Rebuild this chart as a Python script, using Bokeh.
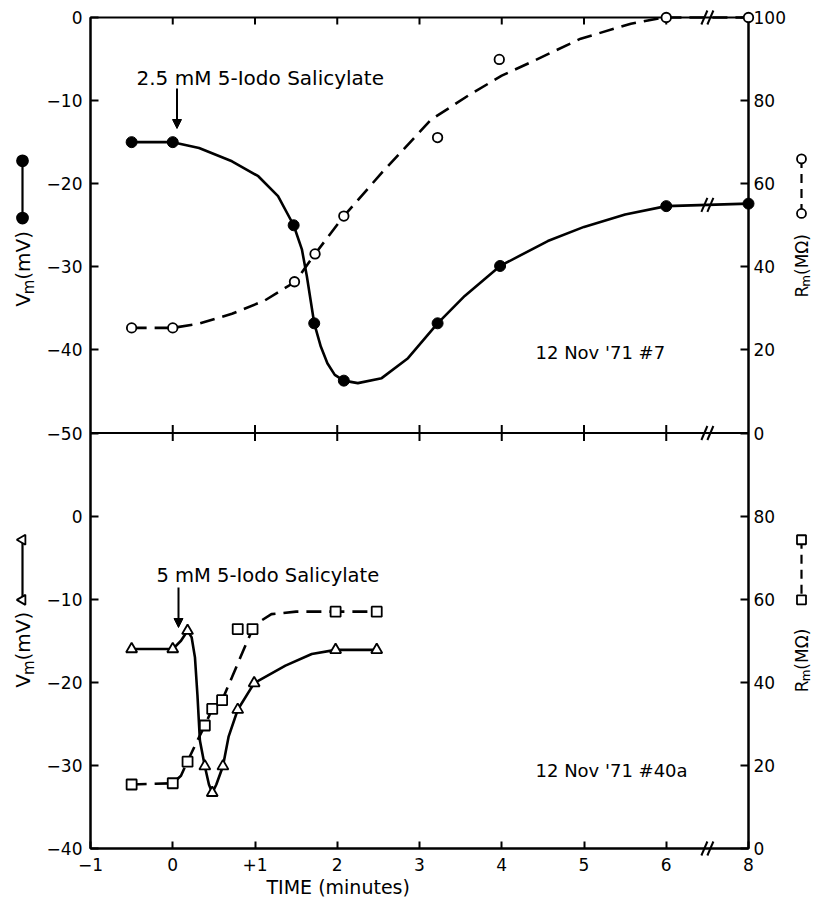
import math
from bokeh.plotting import figure
from bokeh.layouts import row
from bokeh.models import Range1d, LinearAxis, FixedTicker, Label, Arrow, NormalHead, Title
from bokeh.core.properties import value
from bokeh.embed import file_html
from bokeh.resources import INLINE

# ---------------- data (time in minutes) ----------------
# upper panel: 12 Nov '71 #7, 2.5 mM 5-Iodo Salicylate
top_vm_t = [-0.5, 0, 1.47, 1.72, 2.08, 3.22, 3.98, 6, 8]
top_vm = [-15, -15, -25, -36.8, -43.7, -36.8, -29.9, -22.7, -22.4]
top_rm_t = [-0.5, 0, 1.48, 1.73, 2.08, 3.22, 3.97, 6, 8]
top_rm = [25.3, 25.3, 36.4, 43.1, 52.2, 71.1, 89.9, 100, 100]
# hand-drawn curves
top_vm_curve_t = [-0.5, 0, 0.32, 0.72, 1.04, 1.28, 1.47, 1.57, 1.63, 1.72, 1.8, 1.88, 1.97,
                  2.08, 2.25, 2.54, 2.86, 3.22, 3.55, 3.98, 4.56, 5.0, 5.5, 6.0, 8.0]
top_vm_curve = [-15, -15, -15.7, -17.3, -19.1, -21.5, -25, -27.9, -31.1, -36.8, -39.6, -41.6, -43.0,
                -43.7, -44.0, -43.4, -41.0, -36.8, -33.5, -29.9, -26.9, -25.2, -23.7, -22.7, -22.4]
top_rm_curve_t = [-0.5, 0, 0.32, 0.72, 1.12, 1.49, 1.73, 2.08, 2.54, 3.14, 3.6, 4.0,
                  4.36, 4.96, 5.57, 5.89, 6.0, 8.0]
top_rm_curve = [25.3, 25.3, 26.3, 28.7, 31.9, 36.4, 43.1, 52.2, 62.6, 75.4, 81.3, 86.0,
                89.3, 94.9, 98.5, 99.7, 100, 100]

# lower panel: 12 Nov '71 #40a, 5 mM 5-Iodo Salicylate
bot_vm_t = [-0.5, 0, 0.18, 0.39, 0.48, 0.61, 0.79, 0.99, 1.98, 2.48]
bot_vm = [-16, -16, -13.8, -30.1, -33.3, -30.1, -23.3, -20.1, -16.1, -16.1]
bot_rm_t = [-0.5, 0, 0.18, 0.39, 0.48, 0.6, 0.79, 0.97, 1.98, 2.48]
bot_rm = [15.4, 15.7, 20.9, 29.6, 33.6, 35.7, 52.8, 52.8, 57.0, 57.0]
bot_vm_curve_t = [-0.5, 0, 0.1, 0.18, 0.23, 0.27, 0.3, 0.33, 0.39, 0.44, 0.48, 0.53,
                  0.61, 0.68, 0.79, 0.99, 1.37, 1.69, 1.98, 2.48]
bot_vm_curve = [-16, -16, -15.0, -13.8, -14.6, -17.0, -21.5, -27.0, -30.1, -32.3, -33.3, -32.3,
                -30.1, -26.5, -23.3, -20.1, -18.0, -16.6, -16.1, -16.1]
bot_rm_curve_t = [-0.5, 0, 0.1, 0.18, 0.3, 0.39, 0.48, 0.6, 0.72, 0.85, 0.97, 1.04,
                  1.2, 1.5, 1.98, 2.48]
bot_rm_curve = [15.4, 15.7, 17.5, 21.0, 26.0, 29.6, 33.6, 35.7, 41.2, 47.3, 52.8, 54.4,
                56.4, 57.0, 57.0, 57.0]

x_ticks = [-1, 0, 1, 2, 3, 4, 5, 6, 8]
x_tick_labels = ["−1", "0", "+1", "2", "3", "4", "5", "6", "8"]
vm_top_ticks = [0, -10, -20, -30, -40, -50]
vm_bot_ticks = [0, -10, -20, -30, -40]
rm_ticks = [0, 20, 40, 60, 80, 100]

# ---------------- layout (canvas pixels) ----------------
FONT = "DejaVu Sans"
H = 899
LW_FIG = 38                    # left key strip: x 0..38
RW_FIG = 25                    # right key strip
MB_L, MB_R, MB_T, MB_B = 52, 40, 17, 51
FW = 658
W_MAIN = MB_L + FW + MB_R
FL = LW_FIG + MB_L             # frame left (90)
FT = MB_T                      # frame top (17)
FH = H - MB_T - MB_B           # 831
X0, X1 = -1, 7
Y0, Y1 = -100, 0
BREAK = 6.5
UX = (X1 - X0) / FW
UY = (Y1 - Y0) / FH


def tx(t):  # time axis with a break between 6 and 8 min
    return t if t <= 6 else 6 + (t - 6) / 2


def top_y(v):
    return v


def bot_y(v):
    return v - 60


def px(xp):
    return X0 + (xp - FL) * UX


def py(yp):
    return Y1 - (yp - FT) * UY


def minus(s):
    return s.replace("-", "−")


p = figure(width=W_MAIN, height=H, x_range=Range1d(X0, X1), y_range=Range1d(Y0, Y1),
           output_backend="svg", toolbar_location=None, x_axis_type=None, y_axis_type=None,
           min_border_left=MB_L, min_border_right=MB_R, min_border_top=MB_T,
           min_border_bottom=MB_B)
p.extra_y_ranges = {"r": Range1d(0, 200)}
p.outline_line_color = "black"
p.outline_line_width = 2
p.background_fill_color = "white"
p.border_fill_color = "white"

xt_pos = [tx(t) for t in x_ticks]
common = dict(axis_line_width=2, axis_line_color="black", major_tick_line_width=2,
              major_tick_line_color="black", minor_tick_line_color=None,
              major_label_text_font=FONT, major_label_text_font_size="17px",
              major_label_text_color="black")

xb = LinearAxis(ticker=FixedTicker(ticks=xt_pos),
                major_label_overrides={pos: lab for pos, lab in zip(xt_pos, x_tick_labels)},
                major_tick_in=7, major_tick_out=0, major_label_standoff=9, **common)
p.add_layout(xb, "below")
p.add_layout(Title(text="TIME (minutes)", align="left", offset=176, standoff=0,
                   text_font=FONT, text_font_size="19px", text_font_style="normal",
                   text_color="black"), "below")

yl_pos = [top_y(v) for v in vm_top_ticks] + [bot_y(v) for v in vm_bot_ticks]
yl_lab = [minus(str(v)) for v in vm_top_ticks] + [minus(str(v)) for v in vm_bot_ticks]
yl = LinearAxis(ticker=FixedTicker(ticks=yl_pos),
                major_label_overrides={a: b for a, b in zip(yl_pos, yl_lab)},
                major_tick_in=8, major_tick_out=0, major_label_standoff=8, **common)
p.add_layout(yl, "left")

yr_pos = [r + 100 for r in rm_ticks] + [r for r in rm_ticks[:-1]]
yr_lab = [str(r) for r in rm_ticks] + [str(r) for r in rm_ticks[:-1]]
yr = LinearAxis(y_range_name="r", ticker=FixedTicker(ticks=yr_pos),
                major_label_overrides={a: b for a, b in zip(yr_pos, yr_lab)},
                major_tick_in=8, major_tick_out=0, major_label_standoff=5, **common)
p.add_layout(yr, "right")

# top edge ticks, middle (shared) axis line with crossing ticks
inner = xt_pos[1:-1]
n = len(inner)
p.segment(x0=inner, y0=[0] * n, x1=inner, y1=[-7 * UY] * n, line_width=2, line_color="black")
p.segment(x0=[X0], y0=[-50], x1=[X1], y1=[-50], line_width=2, line_color="black")
p.segment(x0=inner, y0=[-50 - 8 * UY] * n, x1=inner, y1=[-50 + 8 * UY] * n,
          line_width=2, line_color="black")

LW = 2.6
DASH = "15 8"
# ---- upper panel
p.line([tx(t) for t in top_rm_curve_t], [r + 100 for r in top_rm_curve], y_range_name="r",
       line_width=LW, line_color="black", line_dash=DASH, level="overlay")
p.line([tx(t) for t in top_vm_curve_t], [top_y(v) for v in top_vm_curve],
       line_width=LW, line_color="black", level="overlay")
p.scatter([tx(t) for t in top_rm_t], [r + 100 for r in top_rm], y_range_name="r",
          marker="circle", size=9.5, fill_color="white", line_color="black", line_width=1.8,
          level="overlay")
p.scatter([tx(t) for t in top_vm_t], [top_y(v) for v in top_vm], marker="circle", size=11,
          fill_color="black", line_color="black", level="overlay")
# ---- lower panel
p.line(bot_rm_curve_t, bot_rm_curve, y_range_name="r", line_width=LW, line_color="black",
       line_dash=DASH, level="overlay")
p.line(bot_vm_curve_t, [bot_y(v) for v in bot_vm_curve], line_width=LW, line_color="black",
       level="overlay")
p.scatter(bot_rm_t, bot_rm, y_range_name="r", marker="square", size=10, fill_color="white",
          line_color="black", line_width=1.8, level="overlay")
p.scatter(bot_vm_t, [bot_y(v) for v in bot_vm], marker="triangle", size=11,
          fill_color="white", line_color="black", line_width=1.8, level="overlay")

# ---- axis-break marks "//"
brk_y = [0, -50, -100, (top_vm[-2] + top_vm[-1]) / 2]
bx0, by0, bx1, by1 = [], [], [], []
for yb in brk_y:
    for off in (-3, 3):
        bx0.append(BREAK + (off - 3) * UX)
        bx1.append(BREAK + (off + 3) * UX)
        by0.append(yb - 7 * UY)
        by1.append(yb + 7 * UY)
p.segment(x0=bx0, y0=by0, x1=bx1, y1=by1, line_width=2, line_color="black", level="overlay")


# ---- annotations inside the frame
def label(xp, yp, text, size=19):
    p.add_layout(Label(x=px(xp), y=py(yp), text=text, text_font=FONT,
                       text_font_size=f"{size}px", text_color="black", text_align="left",
                       text_baseline="middle"))


label(136, 77, "2.5 mM  5-Iodo Salicylate", size=20)
label(156, 575, "5 mM 5-Iodo Salicylate", size=19.5)
label(535, 352, "12 Nov '71 #7", size=18)
label(535, 770, "12 Nov '71 #40a", size=18)

for xa_, y_s, y_e in ((px(176.5), py(88), py(128)), (px(178), py(587), py(627))):
    p.add_layout(Arrow(end=NormalHead(size=9, fill_color="black", line_color="black"),
                       x_start=xa_, y_start=y_s, x_end=xa_, y_end=y_e,
                       line_width=2, line_color="black"))


# ---------------- side strips with axis titles and symbol keys ----------------
def side_fig(x_left, width):
    f = figure(width=width, height=H, x_range=Range1d(x_left, x_left + width),
               y_range=Range1d(-H, 0), output_backend="svg", toolbar_location=None,
               x_axis_type=None, y_axis_type=None, min_border=0)
    f.outline_line_color = None
    f.background_fill_color = "white"
    f.border_fill_color = "white"
    return f


def vlabel(f, xp, yp_bottom, main, main_w, sub, rest, size=18, sub_size=13, sub_dx=5):
    a = math.pi / 2
    y2 = yp_bottom - main_w * size
    y3 = y2 - 0.974 * sub_size - 1
    for x_, y_, t_, s_ in ((xp, yp_bottom, main, size), (xp + sub_dx, y2, sub, sub_size),
                           (xp, y3, rest, size)):
        f.text(x=[x_], y=[-y_], text=[t_], angle=a, text_font=value(FONT),
               text_font_size=value(f"{s_}px"), text_color="black", text_align="left",
               text_baseline="middle")


def key(f, xp, y_top, y_bot, marker, size, fill, dash, angle=0.0):
    xs = [xp, xp]
    ys = [-y_top, -y_bot]
    f.line(xs, ys, line_width=2.2, line_color="black", line_dash=dash)
    f.scatter(xs, ys, marker=marker, size=size, fill_color=fill, line_color="black",
              line_width=1.8, angle=angle)


left = side_fig(0, LW_FIG)
vlabel(left, 22, 313, "V", 0.684, "m", "(mV)", size=20, sub_size=15, sub_dx=6)
vlabel(left, 22, 725, "V", 0.684, "m", "(mV)", size=20, sub_size=15, sub_dx=6)
key(left, 22, 155, 217, "circle", 11, "black", "solid")
key(left, 22, 565, 630, "triangle", 10, "white", "solid", angle=math.pi / 2)

rx = LW_FIG + W_MAIN
right = side_fig(rx, RW_FIG)
vlabel(right, 801, 303, "R", 0.695, "m", " (MΩ)", size=17, sub_size=12, sub_dx=4)
vlabel(right, 801, 730, "R", 0.695, "m", " (MΩ)", size=17, sub_size=12, sub_dx=4)
key(right, 801, 153, 212, "circle", 9, "white", "9 6")
key(right, 801, 565, 630, "square", 9, "white", "9 6")

layout = row(left, p, right, spacing=0)
open("out.html", "w").write(file_html(layout, INLINE))
